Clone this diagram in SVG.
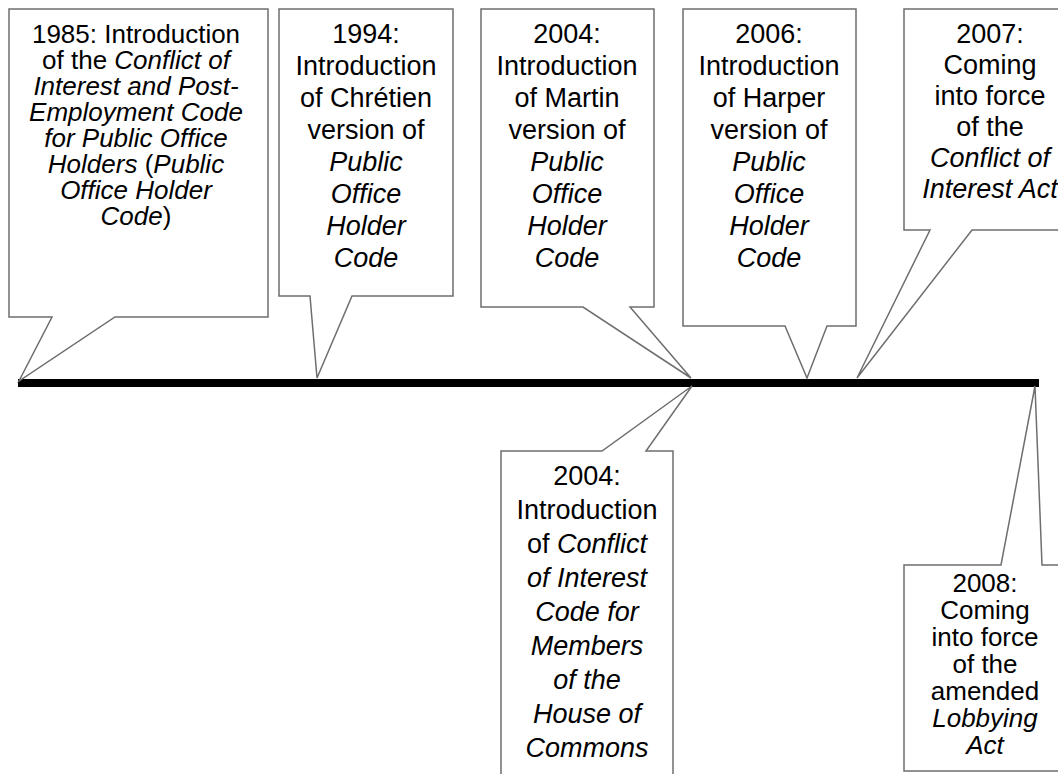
<svg xmlns="http://www.w3.org/2000/svg" width="1058" height="774" viewBox="0 0 1058 774">
<style>
.box{fill:#fff;stroke:#6e6e6e;stroke-width:1.5}
text{font-family:"Liberation Sans",Arial,sans-serif;font-size:27px;fill:#000;text-anchor:middle}
.s{font-size:26px}
.i{font-style:italic}
</style>
<rect width="1058" height="774" fill="#fff"/>
<g id="connectors">
<line x1="18" y1="383" x2="1039" y2="383" stroke="#000" stroke-width="8"/>
</g>
<g id="n1985">
<path class="box" d="M9,9 H268 V317 H115 L19,381 L52,317 H9 Z"/>
<text class="s" x="136"><tspan x="136" y="43">1985: Introduction</tspan><tspan x="136" y="69">of the <tspan class="i">Conflict of</tspan></tspan><tspan x="136" y="95" class="i">Interest and Post-</tspan><tspan x="136" y="121" class="i">Employment Code</tspan><tspan x="136" y="147" class="i">for Public Office</tspan><tspan x="136" y="173"><tspan class="i">Holders</tspan> (<tspan class="i">Public</tspan></tspan><tspan x="136" y="199" class="i">Office Holder</tspan><tspan x="136" y="225"><tspan class="i">Code</tspan>)</tspan></text>
</g>
<g id="n1994">
<path class="box" d="M279,9 H453 V296 H352 L317,378 L310,296 H279 Z"/>
<text><tspan x="366" y="43">1994:</tspan><tspan x="366" y="75">Introduction</tspan><tspan x="366" y="107">of Chrétien</tspan><tspan x="366" y="139">version of</tspan><tspan x="366" y="171" class="i">Public</tspan><tspan x="366" y="203" class="i">Office</tspan><tspan x="366" y="235" class="i">Holder</tspan><tspan x="366" y="267" class="i">Code</tspan></text>
</g>
<g id="n2004a">
<path class="box" d="M481,9 H654 V307 H630 L691,378 L583,307 H481 Z"/>
<text><tspan x="567" y="43">2004:</tspan><tspan x="567" y="75">Introduction</tspan><tspan x="567" y="107">of Martin</tspan><tspan x="567" y="139">version of</tspan><tspan x="567" y="171" class="i">Public</tspan><tspan x="567" y="203" class="i">Office</tspan><tspan x="567" y="235" class="i">Holder</tspan><tspan x="567" y="267" class="i">Code</tspan></text>
</g>
<g id="n2006">
<path class="box" d="M683,9 H856 V326 H827 L807,378 L785,326 H683 Z"/>
<text><tspan x="769" y="43">2006:</tspan><tspan x="769" y="75">Introduction</tspan><tspan x="769" y="107">of Harper</tspan><tspan x="769" y="139">version of</tspan><tspan x="769" y="171" class="i">Public</tspan><tspan x="769" y="203" class="i">Office</tspan><tspan x="769" y="235" class="i">Holder</tspan><tspan x="769" y="267" class="i">Code</tspan></text>
</g>
<g id="n2007">
<path class="box" d="M904,9 H1078 V230 H972 L857,378 L930,230 H904 Z"/>
<text><tspan x="990" y="43">2007:</tspan><tspan x="990" y="74">Coming</tspan><tspan x="990" y="105">into force</tspan><tspan x="990" y="136">of the</tspan><tspan x="990" y="167" class="i">Conflict of</tspan><tspan x="990" y="198" class="i">Interest Act</tspan></text>
</g>
<g id="n2004b">
<path class="box" d="M501,790 V451 H602 L692,386 L646,451 H673 V790"/>
<text><tspan x="587" y="485">2004:</tspan><tspan x="587" y="519">Introduction</tspan><tspan x="587" y="553">of <tspan class="i">Conflict</tspan></tspan><tspan x="587" y="587" class="i">of Interest</tspan><tspan x="587" y="621" class="i">Code for</tspan><tspan x="587" y="655" class="i">Members</tspan><tspan x="587" y="689" class="i">of the</tspan><tspan x="587" y="723" class="i">House of</tspan><tspan x="587" y="757" class="i">Commons</tspan></text>
</g>
<g id="n2008">
<path class="box" d="M904,565 H1001 L1035,386 L1042,565 H1066 V771 H904 Z"/>
<text class="s"><tspan x="985" y="592">2008:</tspan><tspan x="985" y="619">Coming</tspan><tspan x="985" y="646">into force</tspan><tspan x="985" y="673">of the</tspan><tspan x="985" y="700">amended</tspan><tspan x="985" y="727" class="i">Lobbying</tspan><tspan x="985" y="754" class="i">Act</tspan></text>
</g>
</svg>
